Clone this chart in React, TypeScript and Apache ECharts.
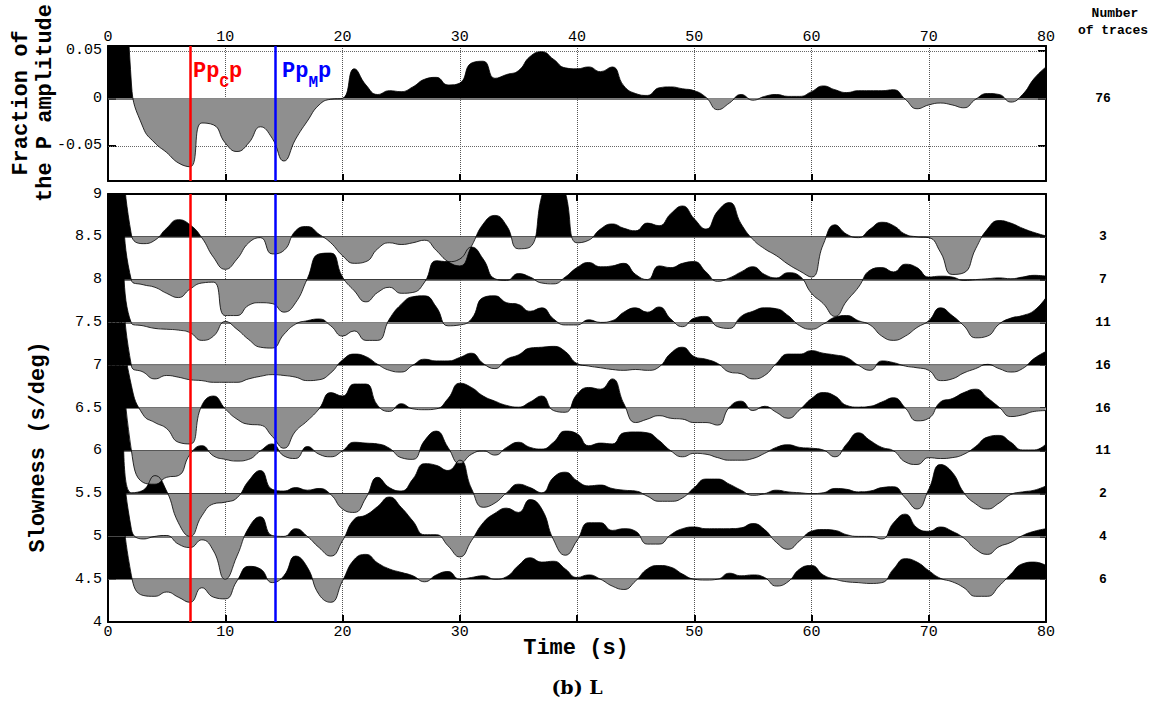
import React, { useEffect, useRef } from "react";
import * as echarts from "echarts";

// ---------------- data ----------------
const timeSeconds = [
  0, 1, 2, 3, 4, 5, 6, 7, 8, 9, 10, 11, 12, 13, 14, 15, 16, 17, 18, 19, 20,
  21, 22, 23, 24, 25, 26, 27, 28, 29, 30, 31, 32, 33, 34, 35, 36, 37, 38, 39, 40,
  41, 42, 43, 44, 45, 46, 47, 48, 49, 50, 51, 52, 53, 54, 55, 56, 57, 58, 59, 60,
  61, 62, 63, 64, 65, 66, 67, 68, 69, 70, 71, 72, 73, 74, 75, 76, 77, 78, 79, 80,
];
const timeTickLabels = ["0", "10", "20", "30", "", "50", "60", "70", "80"];

// stacked trace of all 76 records, fraction of the P amplitude
const fractionOfP = [
  1.0, 0.35, 0.015, -0.031, -0.047, -0.057, -0.068, -0.072, -0.026, -0.028,
  -0.047, -0.056, -0.047, -0.03, -0.042, -0.066, -0.043, -0.024, -0.007, -0.001,
  0.0, 0.031, 0.014, 0.004, 0.008, 0.007, 0.012, 0.02, 0.022, 0.014,
  0.016, 0.037, 0.039, 0.021, 0.025, 0.029, 0.044, 0.049, 0.041, 0.032,
  0.031, 0.033, 0.028, 0.033, 0.013, 0.005, 0.003, 0.011, 0.012, 0.01,
  0.008, 0.001, -0.012, -0.005, 0.004, -0.002, 0.002, 0.004, 0.002, 0.002,
  0.007, 0.013, 0.009, 0.006, 0.008, 0.008, 0.008, 0.009, -0.001, -0.011,
  -0.007, -0.005, -0.007, -0.01, -0.001, 0.005, 0.004, -0.004, 0.004, 0.021,
  0.033,
];
const totalTraces = 76;

// slowness bins (s/deg) and the number of traces stacked in each
const slownessBases = [4.5, 5, 5.5, 6, 6.5, 7, 7.5, 8, 8.5];
const traceCounts = [6, 4, 2, 11, 16, 16, 11, 7, 3];

// trace deflections, in s/deg units relative to each bin's baseline
const trace4_5 = [
  3.0, 1.3, 0.04, -0.19, -0.2, -0.15, -0.21, -0.27, -0.1, -0.21,
  -0.23, -0.02, 0.15, 0.12, -0.04, 0.04, 0.27, 0.14, -0.18, -0.27,
  -0.02, 0.23, 0.29, 0.19, 0.12, 0.08, 0.04, -0.03, 0.05, 0.09,
  0.0, 0.02, 0.04, 0.0, 0.03, 0.16, 0.25, 0.2, 0.21, 0.12,
  0.02, 0.05, 0.0, -0.08, -0.12, -0.02, 0.12, 0.16, 0.14, 0.06,
  0.0, -0.01, 0.0, 0.07, 0.04, 0.05, 0.02, -0.08, -0.03, 0.12,
  0.16, 0.05, 0.0, -0.03, -0.04, -0.05, -0.04, 0.12, 0.24, 0.2,
  0.1, 0.01, -0.03, -0.1, -0.2, -0.2, -0.08, 0.06, 0.18, 0.2,
  0.16,
];
const trace5_0 = [
  3.0, 1.5, 0.08, -0.03, 0.0, 0.01, -0.09, -0.13, -0.04, -0.17,
  -0.5, -0.23, 0.1, 0.23, 0.01, 0.0, 0.09, 0.0, -0.13, -0.23,
  -0.05, 0.2, 0.25, 0.35, 0.46, 0.34, 0.18, 0.02, 0.02, -0.11,
  -0.24, -0.05, 0.16, 0.27, 0.33, 0.28, 0.43, 0.32, -0.04, -0.22,
  -0.05, 0.16, 0.16, 0.07, 0.09, 0.06, -0.09, -0.09, 0.02, 0.09,
  0.11, 0.09, 0.09, 0.09, 0.1, 0.15, 0.08, -0.07, -0.15, -0.05,
  0.06, 0.08, 0.07, 0.02, 0.0, 0.0, -0.03, 0.16, 0.26, 0.1,
  0.06, 0.11, 0.06, -0.02, -0.15, -0.21, -0.12, -0.07, 0.01, 0.06,
  0.09,
];
const trace5_5 = [
  3.0, 1.5, 0.01, 0.04, 0.21, 0.03, -0.34, -0.5, -0.26, -0.12,
  -0.1, -0.05, 0.15, 0.27, 0.05, 0.03, 0.07, 0.04, 0.06, -0.01,
  -0.18, -0.22, -0.05, 0.19, 0.07, 0.03, 0.17, 0.35, 0.33, 0.27,
  0.39, 0.06, -0.16, -0.11, 0.01, 0.11, 0.07, 0.01, 0.19, 0.25,
  0.15, 0.09, 0.1, 0.06, 0.04, 0.03, -0.03, -0.09, -0.09, -0.05,
  0.07, 0.17, 0.17, 0.11, 0.04, -0.02, 0.0, 0.04, 0.02, 0.01,
  0.0, 0.01, 0.06, 0.05, 0.02, 0.03, 0.07, 0.08, -0.05, -0.18,
  0.05, 0.34, 0.25, 0.01, -0.12, -0.18, -0.11, -0.01, 0.02, 0.04,
  0.09,
];
const trace6_0 = [
  3.0, 1.5, 0.0, -0.37, -0.39, -0.31, -0.29, -0.04, 0.06, -0.06,
  -0.1, -0.12, -0.1, 0.0, 0.08, -0.06, -0.09, 0.05, -0.04, -0.07,
  0.0, 0.1, 0.09, 0.08, 0.03, -0.08, -0.1, 0.12, 0.23, 0.04,
  -0.15, -0.04, 0.0, -0.05, 0.04, 0.1, 0.04, 0.02, 0.1, 0.23,
  0.2, 0.06, 0.09, 0.08, 0.21, 0.22, 0.21, 0.12, 0.0, -0.07,
  -0.03, -0.04, -0.08, -0.11, -0.11, -0.09, -0.03, 0.04, 0.07, 0.04,
  0.03, 0.01, -0.07, 0.08, 0.21, 0.12, 0.04, 0.0, -0.13, -0.16,
  -0.08, -0.09, -0.08, -0.04, 0.05, 0.16, 0.18, 0.1, 0.01, 0.01,
  0.08,
];
const trace6_5 = [
  3.0, 1.2, 0.26, -0.08, -0.17, -0.24, -0.4, -0.42, 0.03, 0.14,
  -0.01, -0.13, -0.19, -0.2, -0.33, -0.47, -0.27, -0.15, -0.01, 0.18,
  0.14, 0.28, 0.28, 0.03, -0.04, 0.05, -0.01, -0.02, -0.01, 0.11,
  0.29, 0.24, 0.14, 0.08, 0.03, 0.01, 0.07, 0.14, -0.03, -0.05,
  0.16, 0.24, 0.22, 0.34, 0.05, -0.17, -0.13, -0.09, -0.12, -0.13,
  -0.17, -0.17, -0.2, 0.01, 0.08, -0.03, 0.02, -0.05, -0.12, -0.02,
  0.11, 0.18, 0.14, 0.03, 0.01, 0.02, 0.07, 0.12, 0.0, -0.15,
  -0.12, 0.07, 0.11, 0.18, 0.22, 0.12, 0.01, -0.1, -0.08, -0.04,
  -0.03,
];
const trace7_0 = [
  3.0, 1.5, -0.01, -0.08, -0.16, -0.12, -0.14, -0.17, -0.18, -0.2,
  -0.2, -0.2, -0.16, -0.13, -0.11, -0.12, -0.14, -0.18, -0.17, -0.09,
  0.06, 0.13, 0.1, 0.01, -0.06, -0.08, 0.0, 0.07, 0.05, 0.05,
  0.09, 0.14, 0.02, -0.04, 0.07, 0.12, 0.2, 0.21, 0.22, 0.16,
  0.02, -0.01, -0.03, -0.05, -0.06, -0.05, -0.06, -0.02, 0.14, 0.21,
  0.1, 0.07, 0.02, -0.08, -0.1, -0.16, -0.12, 0.02, 0.13, 0.13,
  0.17, 0.14, 0.12, 0.09, 0.0, -0.06, 0.05, 0.03, -0.01, -0.03,
  -0.06, -0.18, -0.16, -0.09, -0.04, 0.01, -0.04, -0.08, -0.04, 0.08,
  0.16,
];
const trace7_5 = [
  3.0, 1.5, -0.01, -0.04, -0.07, -0.08, -0.09, -0.12, -0.21, -0.16,
  0.01, -0.08, -0.2, -0.29, -0.3, -0.14, -0.02, 0.02, 0.04, -0.04,
  -0.16, -0.1, -0.21, -0.21, 0.04, 0.21, 0.3, 0.31, 0.18, -0.04,
  -0.03, 0.04, 0.29, 0.31, 0.23, 0.21, 0.13, 0.17, 0.04, -0.03,
  -0.03, 0.03, 0.0, 0.02, 0.12, 0.17, 0.12, 0.18, 0.04, -0.05,
  0.05, 0.07, -0.05, -0.07, 0.07, 0.13, 0.17, 0.16, 0.08, -0.04,
  -0.08, -0.02, 0.06, 0.08, 0.02, -0.03, -0.16, -0.21, -0.16, -0.06,
  0.02, 0.17, 0.08, -0.04, -0.18, -0.16, -0.02, 0.05, 0.08, 0.14,
  0.29,
];
const trace8_0 = [
  3.0, 1.5, -0.01, -0.06, -0.09, -0.16, -0.21, -0.11, -0.04, -0.03,
  -0.42, -0.42, -0.3, -0.27, -0.28, -0.38, -0.27, 0.01, 0.3, 0.31,
  0.03, -0.13, -0.26, -0.15, -0.09, -0.16, -0.15, -0.03, 0.22, 0.21,
  0.24, 0.38, 0.24, 0.01, -0.01, 0.07, 0.03, -0.04, -0.05, 0.03,
  0.14, 0.2, 0.15, 0.16, 0.19, 0.06, 0.0, 0.16, 0.14, 0.19,
  0.21, 0.09, -0.02, 0.02, 0.09, 0.15, 0.06, 0.02, 0.08, 0.04,
  -0.16, -0.28, -0.43, -0.25, -0.09, 0.11, 0.14, 0.09, 0.18, 0.14,
  0.03, 0.04, 0.03, -0.01, 0.0, 0.01, 0.02, 0.01, 0.03, 0.05,
  0.04,
];
const trace8_5 = [
  3.0, 1.5, 0.02, -0.08, -0.04, 0.1, 0.2, 0.14, -0.01, -0.24,
  -0.38, -0.26, -0.07, -0.01, -0.2, -0.16, 0.07, 0.12, 0.03, -0.07,
  -0.22, -0.31, -0.29, -0.14, -0.07, -0.09, -0.07, -0.04, -0.16, -0.29,
  -0.34, -0.11, 0.15, 0.25, 0.13, -0.14, -0.12, 0.48, 0.9, 0.52,
  -0.07, -0.04, 0.09, 0.15, 0.1, 0.07, 0.16, 0.13, 0.27, 0.36,
  0.21, 0.09, 0.3, 0.4, 0.15, -0.03, -0.14, -0.22, -0.32, -0.4,
  -0.47, -0.09, 0.14, 0.03, -0.01, 0.09, 0.17, 0.13, 0.03, 0.0,
  -0.01, -0.18, -0.44, -0.42, -0.14, 0.09, 0.19, 0.16, 0.1, 0.05,
  0.01,
];
const slownessTraces = [
  trace4_5, trace5_0, trace5_5, trace6_0, trace6_5, trace7_0, trace7_5, trace8_0, trace8_5,
];

// picked phases: arrival time (s)
const phaseTimes = [7.0, 14.25];
const phaseMain = ["Pp", "Pp"];
const phaseSub = ["C", "M"];
const phaseTail = ["p", "p"];

// ---------------- styles ----------------
const MONO = "'Liberation Mono', 'DejaVu Sans Mono', monospace";
const POS_FILL = "#000000";
const NEG_FILL = "#8f8f8f";
const PHASE_COLORS = ["#ff0000", "#0000ff"];

function buildOption() {
  const series: any[] = [];
  const visualMaps: any[] = [];

  const traceSeries = (data: number[][], base: number, xi: number, yi: number, extraLines: any[]) => ({
    type: "line",
    xAxisIndex: xi,
    yAxisIndex: yi,
    data,
    smooth: 0.5,
    symbol: "none",
    showSymbol: false,
    silent: true,
    lineStyle: { color: "#000000", width: 0.8 },
    areaStyle: { origin: base, opacity: 1 },
    markLine: {
      silent: true,
      symbol: "none",
      z: 1,
      label: { show: false },
      lineStyle: { color: "#444", width: 1.6, type: "solid" },
      data: [{ yAxis: base }, ...extraLines],
    },
  });

  const fillMap = (idx: number, base: number) => ({
    type: "piecewise",
    show: false,
    seriesIndex: idx,
    dimension: 1,
    pieces: [
      { gte: base - 3, lt: base, color: NEG_FILL },
      { gte: base, lte: base + 4, color: POS_FILL },
    ],
  });

  slownessBases.forEach((base, k) => {
    const idx = series.length;
    const data = timeSeconds.map((t, i) => [t, base + slownessTraces[k][i]]);
    series.push(traceSeries(data, base, 3, 2, []));
    visualMaps.push(fillMap(idx, base));
  });

  const topIdx = series.length;
  series.push(
    traceSeries(
      timeSeconds.map((t, i) => [t, fractionOfP[i]]),
      0,
      0,
      0,
      [
        { yAxis: 0.05, lineStyle: { type: "dotted", color: "#666", width: 1 } },
        { yAxis: -0.05, lineStyle: { type: "dotted", color: "#666", width: 1 } },
      ]
    )
  );
  visualMaps.push(fillMap(topIdx, 0));

  const phaseLines = (xi: number, yi: number, y0: number) => ({
    type: "line",
    xAxisIndex: xi,
    yAxisIndex: yi,
    data: [[0, y0]],
    symbol: "none",
    silent: true,
    lineStyle: { opacity: 0 },
    markLine: {
      silent: true,
      symbol: "none",
      z: 10,
      label: { show: false },
      data: phaseTimes.map((t, i) => ({
        xAxis: t,
        lineStyle: { color: PHASE_COLORS[i], width: 2.5, type: "solid" },
      })),
    },
  });
  series.push(phaseLines(0, 0, 0));
  series.push(phaseLines(3, 2, 4));

  const frame = { show: true, onZero: false, lineStyle: { color: "#000", width: 2 } };
  const tickIn = (len: number) => ({ show: true, inside: true, length: len, lineStyle: { color: "#000", width: 2 } });
  const label = { color: "#000", fontFamily: MONO, fontSize: 15 };
  const xBase = { type: "value", min: 0, max: 80, interval: 10 };
  const dotted = { show: true, lineStyle: { color: "#555", type: "dotted", width: 1 } };

  const countLabel = (v: number) => {
    const k = slownessBases.findIndex((b) => Math.abs(b - v) < 1e-6);
    return k >= 0 ? String(traceCounts[k]) : "";
  };
  const bottomTimeLabel = (v: number) => {
    const k = Math.round(v / 10);
    return timeTickLabels[k] ?? "";
  };

  return {
    animation: false,
    backgroundColor: "#ffffff",
    grid: [
      { left: 108, top: 46, width: 938, height: 135, containLabel: false, show: false },
      { left: 108, top: 194, width: 938, height: 428, containLabel: false, show: false },
    ],
    xAxis: [
      { ...xBase, gridIndex: 0, position: "top", axisLine: frame, axisTick: { show: false }, axisLabel: { ...label, margin: 1 }, splitLine: dotted },
      { ...xBase, gridIndex: 0, position: "bottom", axisLine: frame, axisTick: tickIn(7), axisLabel: { show: false }, splitLine: { show: false } },
      { ...xBase, gridIndex: 1, position: "top", axisLine: frame, axisTick: tickIn(7), axisLabel: { show: false }, splitLine: { show: false } },
      { ...xBase, gridIndex: 1, position: "bottom", axisLine: frame, axisTick: tickIn(7), axisLabel: { ...label, margin: 3, formatter: bottomTimeLabel }, splitLine: dotted },
    ],
    yAxis: [
      {
        type: "value", gridIndex: 0, position: "left", min: -0.087, max: 0.055,
        axisLine: frame,
        axisTick: { ...tickIn(8), customValues: [-0.05, 0, 0.05] },
        axisLabel: { ...label, margin: 6, customValues: [-0.05, 0, 0.05] },
        splitLine: { show: false },
      },
      {
        type: "value", gridIndex: 0, position: "right", min: -0.087, max: 0.055,
        axisLine: frame,
        axisTick: { ...tickIn(8), customValues: [-0.05, 0, 0.05] },
        axisLabel: {
          color: "#000", fontFamily: MONO, fontSize: 13, fontWeight: "bold",
          align: "center", margin: 57, customValues: [0], formatter: () => String(totalTraces),
        },
        splitLine: { show: false },
      },
      {
        type: "value", gridIndex: 1, position: "left", min: 4, max: 9, interval: 0.5,
        axisLine: frame, axisTick: tickIn(8), axisLabel: { ...label, margin: 6 }, splitLine: { show: false },
      },
      {
        type: "value", gridIndex: 1, position: "right", min: 4, max: 9, interval: 0.5,
        axisLine: frame, axisTick: tickIn(6),
        axisLabel: {
          color: "#000", fontFamily: MONO, fontSize: 13, fontWeight: "bold",
          align: "center", margin: 57, formatter: countLabel,
        },
        splitLine: { show: false },
      },
    ],
    visualMap: visualMaps,
    series,
  };
}

export default function App() {
  const ref = useRef<HTMLDivElement>(null);
  useEffect(() => {
    if (!ref.current) return;
    const chart = echarts.init(ref.current, null, { renderer: "svg" });
    chart.setOption(buildOption() as any);

    const topIdx = slownessBases.length;
    const graphics: any[] = [];
    const offsets = [3, 7];
    const mainSize = 22;
    const subSize = 16;
    phaseTimes.forEach((t, i) => {
      const p0 = chart.convertToPixel({ seriesIndex: topIdx }, [t, 0.028]) as number[];
      const p1 = chart.convertToPixel({ seriesIndex: topIdx }, [t, 0.016]) as number[];
      if (!p0 || !p1) return;
      const x0 = p0[0] + offsets[i];
      const mainW = phaseMain[i].length * 0.6 * mainSize;
      const subW = phaseSub[i].length * 0.6 * subSize;
      graphics.push(
        { type: "text", x: x0, y: p0[1], z: 20, style: { text: phaseMain[i], fill: PHASE_COLORS[i], font: `bold ${mainSize}px ${MONO}`, align: "left", verticalAlign: "middle" } },
        { type: "text", x: x0 + mainW, y: p1[1], z: 20, style: { text: phaseSub[i], fill: PHASE_COLORS[i], font: `bold ${subSize}px ${MONO}`, align: "left", verticalAlign: "middle" } },
        { type: "text", x: x0 + mainW + subW, y: p0[1], z: 20, style: { text: phaseTail[i], fill: PHASE_COLORS[i], font: `bold ${mainSize}px ${MONO}`, align: "left", verticalAlign: "middle" } }
      );
    });

    graphics.push(
      { type: "text", x: 21, y: 103, rotation: Math.PI / 2, style: { text: "Fraction of", fill: "#000", font: `bold 22px ${MONO}`, align: "center", verticalAlign: "middle" } },
      { type: "text", x: 45, y: 103, rotation: Math.PI / 2, style: { text: "the P amplitude", fill: "#000", font: `bold 22px ${MONO}`, align: "center", verticalAlign: "middle" } },
      { type: "text", x: 38, y: 447, rotation: Math.PI / 2, style: { text: "Slowness (s/deg)", fill: "#000", font: `bold 22px ${MONO}`, align: "center", verticalAlign: "middle" } },
      { type: "text", x: 576, y: 648, style: { text: "Time (s)", fill: "#000", font: `bold 22px ${MONO}`, align: "center", verticalAlign: "middle" } },
      { type: "text", x: 1115, y: 13, style: { text: "Number", fill: "#000", font: `bold 13px ${MONO}`, align: "center", verticalAlign: "middle" } },
      { type: "text", x: 1113, y: 30, style: { text: "of traces", fill: "#000", font: `bold 13px ${MONO}`, align: "center", verticalAlign: "middle" } },
      { type: "text", x: 577, y: 687, style: { text: "(b) L", fill: "#000", font: `bold 19px 'DejaVu Serif', 'Liberation Serif', serif`, align: "center", verticalAlign: "middle" } }
    );
    chart.setOption({ graphic: graphics });
    return () => chart.dispose();
  }, []);
  return (
    <div
      ref={ref}
      style={{ position: "absolute", left: 0, top: 0, width: 1157, height: 701, background: "#fff" }}
    />
  );
}
